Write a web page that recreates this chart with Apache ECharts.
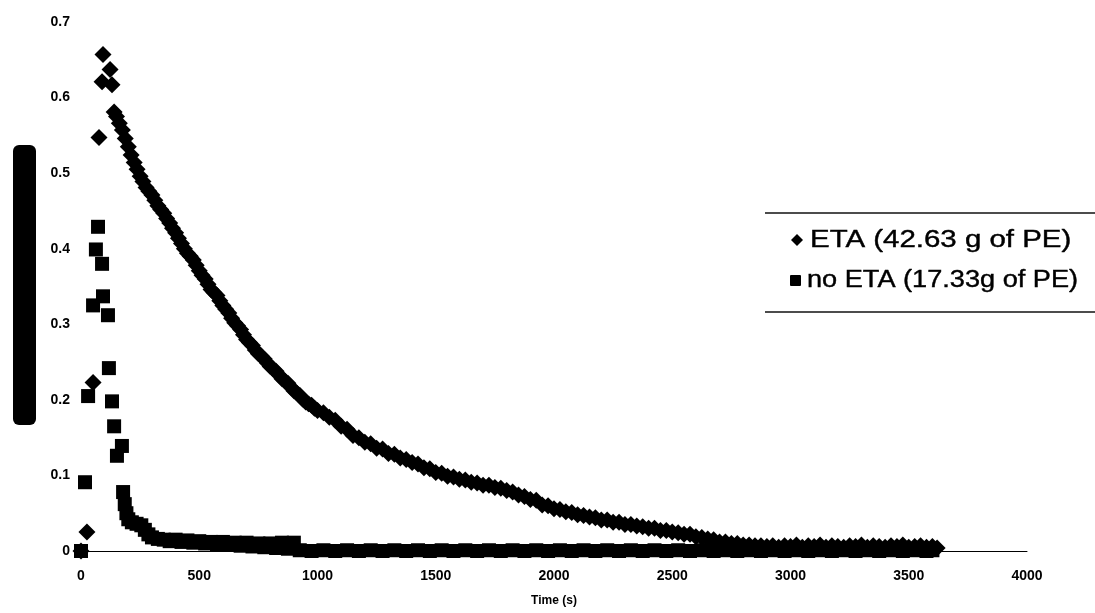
<!DOCTYPE html>
<html>
<head>
<meta charset="utf-8">
<title>ETA vs no ETA</title>
<script src="https://cdn.jsdelivr.net/npm/echarts@6/dist/echarts.min.js"></script>
<style>
  html, body { margin: 0; padding: 0; background: #fff; }
  #chart { width: 1095px; height: 613px; }
</style>
</head>
<body>
<div id="chart"></div>
<script>
// Axis ticks
const xTicks = { min: 0, max: 4000, step: 500 };
const yTicks = { min: 0, max: 0.7, step: 0.1 };

// Series names
const seriesNames = ['ETA (42.63 g of PE)', 'no ETA (17.33g of PE)'];

// [time (s), value] — with ETA
const etaPoints = [
  [0,0.000],[25,0.025],[51,0.223],[76,0.547],[89,0.621],[93,0.657],[123,0.637],[131,0.617],[140,0.581],
  [150,0.575],[162,0.566],[175,0.557],[187,0.546],[200,0.535],[212,0.524],[225,0.514],[237,0.505],
  [250,0.496],[262,0.489],[275,0.481],[287,0.476],[300,0.471],[312,0.464],[325,0.457],[337,0.452],
  [350,0.447],[362,0.440],[375,0.434],[387,0.427],[400,0.421],[412,0.414],[425,0.407],[437,0.400],
  [450,0.394],[462,0.390],[475,0.385],[487,0.378],[500,0.371],[512,0.365],[525,0.360],[537,0.353],
  [550,0.346],[562,0.342],[575,0.338],[587,0.331],[600,0.325],[612,0.320],[625,0.315],[637,0.308],
  [650,0.302],[662,0.298],[675,0.293],[687,0.286],[700,0.280],[712,0.276],[725,0.272],[737,0.266],
  [750,0.261],[762,0.258],[775,0.254],[787,0.249],[800,0.244],[812,0.241],[825,0.238],[837,0.233],
  [850,0.228],[862,0.225],[875,0.222],[887,0.217],[900,0.212],[912,0.209],[925,0.206],[937,0.201],
  [950,0.197],[962,0.195],[975,0.193],[987,0.189],[1000,0.186],[1025,0.183],[1050,0.177],[1075,0.173],
  [1100,0.165],[1125,0.161],
  [1150,0.153],[1175,0.150],[1200,0.144],[1225,0.142],[1250,0.136],[1275,0.135],[1300,0.129],[1325,0.128],
  [1350,0.123],[1375,0.121],[1400,0.117],[1425,0.115],[1450,0.110],[1475,0.109],[1500,0.104],[1525,0.103],
  [1550,0.099],[1575,0.098],[1600,0.095],[1625,0.094],[1650,0.091],[1675,0.090],[1700,0.087],[1725,0.087],
  [1750,0.084],[1775,0.083],[1800,0.080],[1825,0.078],[1850,0.074],[1875,0.072],[1900,0.068],[1925,0.067],
  [1950,0.061],[1975,0.060],[2000,0.056],[2025,0.055],[2050,0.052],[2075,0.051],[2100,0.048],[2125,0.047],
  [2150,0.045],[2175,0.044],[2200,0.041],[2225,0.041],[2250,0.038],[2275,0.038],[2300,0.035],[2325,0.035],
  [2350,0.033],[2375,0.032],[2400,0.030],[2425,0.030],[2450,0.027],[2475,0.027],[2500,0.025],[2525,0.024],
  [2550,0.022],[2575,0.022],[2600,0.019],[2625,0.018],[2650,0.016],[2675,0.015],[2700,0.012],[2725,0.012],
  [2750,0.010],[2775,0.010],[2800,0.008],[2825,0.008],[2850,0.007],[2875,0.007],[2900,0.006],[2925,0.007],
  [2950,0.005],[2975,0.007],[3000,0.006],[3025,0.008],[3050,0.005],[3075,0.007],[3100,0.006],[3125,0.008],
  [3150,0.005],[3175,0.007],[3200,0.006],[3225,0.005],[3250,0.007],[3275,0.006],[3300,0.008],[3325,0.005],
  [3350,0.007],[3375,0.006],[3400,0.005],[3425,0.007],[3450,0.006],[3475,0.008],[3500,0.005],[3525,0.006],
  [3550,0.007],[3575,0.005],[3600,0.006],[3620,0.004]
];

// [time (s), value] — without ETA
const noEtaPoints = [
  [0,0.000],[17,0.091],[30,0.205],[51,0.325],[63,0.399],[72,0.429],[89,0.380],[93,0.337],[114,0.312],
  [118,0.242],[131,0.198],[140,0.165],[152,0.126],[173,0.139],[178,0.078],[185,0.062],[192,0.050],
  [200,0.042],[215,0.038],[235,0.036],[255,0.034],[270,0.028],[285,0.022],[300,0.018],[325,0.016],
  [350,0.015],[375,0.013],[400,0.015],[425,0.012],[450,0.014],[475,0.011],[500,0.013],[525,0.010],
  [550,0.012],[575,0.009],[600,0.012],[625,0.008],[650,0.011],[675,0.007],[700,0.011],[725,0.006],
  [750,0.010],[775,0.005],[800,0.010],[825,0.004],[850,0.011],[875,0.003],[900,0.011],[925,0.001],
  [975,0.000],[1025,0.001],[1075,0.000],[1125,0.001],[1175,0.000],[1225,0.001],[1275,0.000],[1325,0.001],
  [1375,0.000],[1425,0.001],[1475,0.000],[1525,0.001],[1575,0.000],[1625,0.001],[1675,0.000],[1725,0.001],
  [1775,0.000],[1825,0.001],[1875,0.000],[1925,0.001],[1975,0.000],[2025,0.001],[2075,0.000],[2125,0.001],
  [2175,0.000],[2225,0.001],[2275,0.000],[2325,0.001],[2375,0.000],[2425,0.001],[2475,0.000],[2525,0.001],
  [2575,0.000],[2625,0.001],[2675,0.000],[2725,0.001],[2775,0.000],[2825,0.001],[2875,0.000],[2925,0.001],
  [2975,0.000],[3025,0.001],[3075,0.000],[3125,0.001],[3175,0.000],[3225,0.001],[3275,0.000],[3325,0.001],
  [3375,0.000],[3425,0.001],[3475,0.000],[3525,0.001],[3575,0.000],[3600,0.001]
];

const chart = echarts.init(document.getElementById('chart'), null, { renderer: 'canvas' });

const fontStack = 'Liberation Sans, Arial, sans-serif';
const tickFont = { color: '#000', fontWeight: 'bold', fontSize: 14, fontFamily: fontStack };
const legendFont = { fill: '#000', fontSize: 23, fontFamily: fontStack, stroke: '#000', lineWidth: 0.4 };

const option = {
  animation: false,
  backgroundColor: '#fff',
  grid: { left: 81, right: 68, top: 22, bottom: 62, containLabel: false },
  xAxis: {
    type: 'value',
    min: xTicks.min, max: xTicks.max, interval: xTicks.step,
    name: 'Time (s)',
    nameLocation: 'middle',
    nameGap: 44,
    nameTextStyle: { color: '#000', fontWeight: 'bold', fontSize: 12, fontFamily: fontStack },
    axisLine: { show: true, lineStyle: { color: '#000', width: 1 } },
    axisTick: { show: false },
    splitLine: { show: false },
    axisLabel: Object.assign({ margin: 18, formatter: v => String(v) }, tickFont)
  },
  yAxis: {
    type: 'value',
    min: yTicks.min, max: yTicks.max, interval: yTicks.step,
    axisLine: { show: false },
    axisTick: { show: false },
    splitLine: { show: false },
    axisLabel: Object.assign({ margin: 11, formatter: v => String(+v.toFixed(1)) }, tickFont)
  },
  series: [
    {
      name: seriesNames[0],
      type: 'scatter',
      symbol: 'diamond',
      symbolSize: 17,
      itemStyle: { color: '#000', opacity: 1 },
      emphasis: { disabled: true },
      data: etaPoints
    },
    {
      name: seriesNames[1],
      type: 'scatter',
      symbol: 'rect',
      symbolSize: 14,
      itemStyle: { color: '#000', opacity: 1 },
      emphasis: { disabled: true },
      data: noEtaPoints
    }
  ],
  graphic: [
    // y-axis title block
    { type: 'rect', shape: { x: 13, y: 145, width: 23, height: 280, r: 6 }, style: { fill: '#000' } },
    // legend box rules
    { type: 'line', shape: { x1: 765, y1: 213, x2: 1095, y2: 213 }, style: { stroke: '#111', lineWidth: 1.5 } },
    { type: 'line', shape: { x1: 765, y1: 312, x2: 1095, y2: 312 }, style: { stroke: '#111', lineWidth: 1.5 } },
    // legend icons
    { type: 'polygon', shape: { points: [[797, 234], [803, 240], [797, 246], [791, 240]] }, style: { fill: '#000' } },
    { type: 'rect', shape: { x: 790, y: 275, width: 11, height: 11, r: 1 }, style: { fill: '#000' } },
    // legend labels
    { type: 'text', x: 810, y: 241, scaleX: 1.28, style: Object.assign({ text: seriesNames[0], textVerticalAlign: 'middle', textAlign: 'left' }, legendFont) },
    { type: 'text', x: 807, y: 281, scaleX: 1.18, style: Object.assign({ text: seriesNames[1], textVerticalAlign: 'middle', textAlign: 'left' }, legendFont) }
  ]
};

chart.setOption(option);
</script>
</body>
</html>
